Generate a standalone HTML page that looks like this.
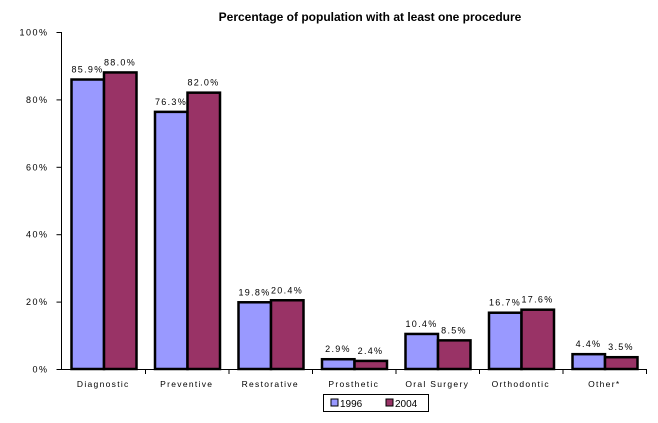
<!DOCTYPE html>
<html><head><meta charset="utf-8"><style>
body{margin:0;background:#fff;font-family:"Liberation Sans",Arial,sans-serif}
svg text{font-family:"Liberation Sans",Arial,sans-serif}
</style></head><body>
<svg id="chart" width="658" height="418">
<text x="370" y="21" text-anchor="middle" font-size="12" font-weight="bold">Percentage of population with at least one procedure</text>
<g id="axes"></g><g id="bars"></g>
<g>
<rect x="323.5" y="394.5" width="105" height="17" fill="#fff" stroke="#000"/>
<rect x="331" y="399" width="7" height="7" fill="#9999ff" stroke="#000"/>
<text x="340" y="407" font-size="10">1996</text>
<rect x="386" y="399" width="7" height="7" fill="#993366" stroke="#000"/>
<text x="395" y="407" font-size="10">2004</text>
</g>
</svg>
<script>
const categories=["Diagnostic","Preventive","Restorative","Prosthetic","Oral Surgery","Orthodontic","Other*"];
const values1996=[85.9,76.3,19.8,2.9,10.4,16.7,4.4];
const values2004=[88.0,82.0,20.4,2.4,8.5,17.6,3.5];
const yTicks=[0,20,40,60,80,100];
const NS="http://www.w3.org/2000/svg";
const x0=61.5,band=83.5,y0=369,yTop=32;
const y=v=>y0-(v/100)*(y0-yTop);
function mk(t,a,p){const e=document.createElementNS(NS,t);for(const k in a)e.setAttribute(k,a[k]);p.appendChild(e);return e;}
const axes=document.getElementById('axes'),bars=document.getElementById('bars');
const ya=mk('line',{x1:x0,y1:yTop,x2:x0,y2:y0,stroke:'#000'},axes);


const xa=mk('line',{x1:x0-5,y1:y0+0.5,x2:x0+band*7,y2:y0+0.5,stroke:'#000'},axes);


yTicks.forEach(t=>{
 mk('line',{x1:x0-5,x2:x0,y1:y(t)+0.5,y2:y(t)+0.5,stroke:'#000'},axes);
 const tx=mk('text',{x:x0-13,y:y(t)+3.5,'text-anchor':'end','font-size':9,'letter-spacing':'1.5'},axes);
 tx.textContent=t+'%';
 
 
});
categories.forEach((c,i)=>{
 const bx=x0+i*band;
 mk('line',{x1:bx+band+0.5,x2:bx+band+0.5,y1:y0,y2:y0+5,stroke:'#000'},axes);
 const cl=mk('text',{x:bx+band/2,y:y0+18,'text-anchor':'middle','font-size':8.5,'letter-spacing':'1.3'},axes);
 cl.textContent=c;
 
 
 [[values1996,'#9999ff',10],[values2004,'#993366',42.5]].forEach(([arr,col,off])=>{
  const v=arr[i];
  const r=mk('rect',{x:bx+off,y:y(v),width:32.5,height:y0-y(v),fill:col,stroke:'#000','stroke-width':2.5},bars);
  
  
  const l=mk('text',{x:bx+off+16,y:y(v)-7,'text-anchor':'middle','font-size':9,'letter-spacing':'1.3'},bars);
  l.textContent=v.toFixed(1)+'%';
  
  
 });
});
</script>
</body></html>
